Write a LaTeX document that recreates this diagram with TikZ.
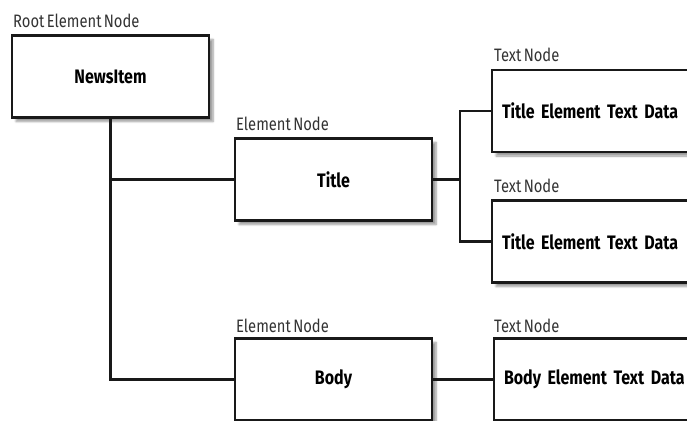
\documentclass[tikz,border=0pt]{standalone}
\usepackage{fontspec}
\setmainfont[FakeStretch=0.82,WordSpace=0.6,BoldFeatures={WordSpace=0.45}]{Fira Sans}
\usetikzlibrary{shadows.blur}
\tikzset{
  box/.style={draw=black!90, line width=2.4pt, fill=white,
    minimum width=197pt, minimum height=82pt, inner sep=0pt,
    font=\bfseries\fontsize{19.5}{22}\selectfont,
    blur shadow={shadow xshift=4pt, shadow yshift=-4pt, shadow blur steps=6, shadow opacity=40}},
  tbox/.style={box, text width=200pt, align=left, inner xsep=10pt, minimum width=220pt},
  lbl/.style={font=\fontsize{18}{20}\selectfont, anchor=base west, inner sep=0pt, text=black!80},
  conn/.style={line width=2.4pt, draw=black!90},
}
\begin{document}
\begin{tikzpicture}[x=1pt,y=-1pt]
\useasboundingbox (0,0) rectangle (687,420);
\clip (0,0) rectangle (687,420);
\node[box] (root) at (110.5,76.5) {NewsItem};
\node[box] (title) at (333.5,179.5) {Title};
\node[box] (body) at (333.5,379.5) {Body};
\node[tbox] (t1) at (602,111) {Title Element Text Data};
\node[tbox] (t2) at (602,241.5) {Title Element Text Data};
\node[tbox] (bt) at (604,379.5) {Body Element Text Data};
\node[lbl] (lroot) at (13,28) {Root Element Node};
\node[lbl] (ltitle) at (236,130) {Element Node};
\node[lbl] (lbody) at (236,332) {Element Node};
\node[lbl] (lt1) at (494,62) {Text Node};
\node[lbl] (lt2) at (494,192) {Text Node};
\node[lbl] (lbt) at (494,332) {Text Node};
\coordinate (j) at (460,179.5);
\draw[conn] (root.south) |- (title.west);
\draw[conn] (root.south) |- (body.west);
\draw[conn] (title.east) -- (j);
\draw[conn] (j) |- (t1.west);
\draw[conn] (j) |- (t2.west);
\draw[conn] (body.east) -- (bt.west);
\end{tikzpicture}
\end{document}
